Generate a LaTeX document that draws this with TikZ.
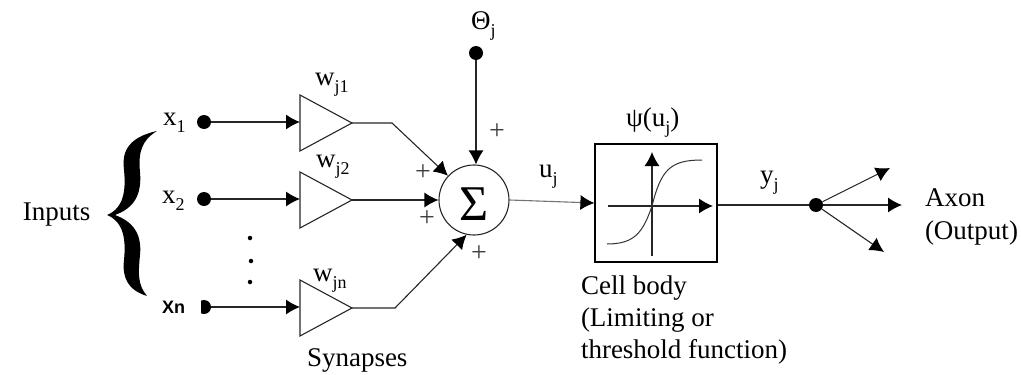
\documentclass[tikz,border=0pt]{standalone}
\usepackage{fontspec}
\setmainfont{Liberation Serif}
\newfontfamily\arialfont{Liberation Sans}
\usetikzlibrary{arrows.meta,shapes.geometric}
\newcommand{\sbx}[1]{\raisebox{-7pt}{\fontsize{18}{18}\selectfont #1}}
\tikzset{
  x=1pt,y=-1pt,
  lbl/.style={inner sep=0pt,outer sep=0pt,anchor=base west,font=\fontsize{27}{32}\selectfont},
  para/.style={inner sep=0pt,outer sep=0pt,anchor=north west,align=left,font=\fontsize{27}{32.3}\selectfont},
  plus/.style={inner sep=0pt,outer sep=0pt,font=\fontsize{28}{28}\selectfont,text=black!75},
  wire/.style={line width=1.1pt,draw=black!85},
  arr/.style={wire,-{Latex[length=14pt,width=15pt,color=black]}},
  dotn/.style={circle,fill=black,inner sep=0pt,minimum size=14pt},
  tinydot/.style={circle,fill=black,inner sep=0pt,minimum size=4.5pt},
  amp/.style={isosceles triangle,isosceles triangle stretches,shape border rotate=0,draw=black!85,line width=1.1pt,inner sep=0pt,outer sep=0pt,minimum width=56pt,minimum height=52pt,anchor=west}
}
\begin{document}
\begin{tikzpicture}
\useasboundingbox (0,0) rectangle (1021,375);
% Brace
\fill (157,131) .. controls (125,138) and (122,155) .. (124,170)
  .. controls (126,190) and (124,208) .. (107,215)
  .. controls (124,222) and (126,240) .. (124,260)
  .. controls (122,278) and (128,290) .. (147,296)
  .. controls (138,285) and (138,275) .. (140,255)
  .. controls (142,235) and (134,222) .. (115,215)
  .. controls (134,208) and (142,195) .. (140,172)
  .. controls (138,152) and (142,140) .. (157,131) -- cycle;
\node[lbl] (inputs) at (23,220) {Inputs};
% Inputs
\node[lbl] (lx1) at (163,125) {x\sbx{1}};
\node[lbl] (lx2) at (162,203) {x\sbx{2}};
\node[lbl,font=\arialfont\bfseries\fontsize{18}{20}\selectfont] (lxn) at (162,313) {Xn};
\node[dotn] (x1) at (204,122) {};
\node[dotn] (x2) at (204,199) {};
\node[dotn] (xn) at (204,307) {};
\fill[white] (197,298) rectangle (201,316);
\node[tinydot] (d1) at (250,238) {};
\node[tinydot] (d2) at (251,261) {};
\node[tinydot] (d3) at (250,282) {};
% Synapses
\node[amp] (s1) at (300,123) {};
\node[amp] (s2) at (300,200) {};
\node[amp] (s3) at (300,308) {};
\node[lbl] (w1) at (315,85) {w\sbx{j1}};
\node[lbl] (w2) at (316,167) {w\sbx{j2}};
\node[lbl] (wn) at (313,281) {w\sbx{jn}};
\node[lbl] (syn) at (307,366) {Synapses};
% Summation
\node[circle,draw=black!85,line width=1.1pt,inner sep=0pt,minimum size=70pt] (sum) at (474,200) {};
\node[inner sep=0pt,font=\fontsize{50}{50}\selectfont] (sigma) at (474,204) {Σ};
\node[dotn] (theta) at (476,53) {};
\node[lbl] (ltheta) at (471,29) {Θ\sbx{j}};
\node[plus] (p1) at (497,132) {+};
\node[plus] (p2) at (423,173) {+};
\node[plus] (p3) at (427,219) {+};
\node[plus] (p4) at (479,254) {+};
\coordinate (b1) at (392,123);
\coordinate (b3) at (395,308);
\draw[arr] (x1) -- (s1.west |- x1);
\draw[arr] (x2) -- (s2.west |- x2);
\draw[arr] (xn) -- (s3.west |- xn);
\draw[arr] (s1.apex) -- (b1) -- (sum.137);
\draw[arr] (s2.apex) -- (sum.west |- s2.apex);
\draw[arr] (s3.apex) -- (b3) -- (sum.-102);
\draw[arr] (theta) -- (theta |- sum.north);
% Cell body
\node[draw=black,line width=1.2pt,inner sep=0pt,minimum width=122pt,minimum height=118pt] (cell) at (656,203) {};
\node[lbl] (lu) at (539,177) {u\sbx{j}};
\node[lbl] (lpsi) at (626,126) {ψ(u\sbx{j})};
\node[para] (lcell) at (581,275.5) {Cell body\\(Limiting or\\threshold function)};
\draw[arr,draw=black!55] (sum.east) -- (cell.west |- 510,203);
\coordinate (ax0) at (652,256);
\coordinate (ax1) at (652,152);
\coordinate (ay0) at (608,206);
\coordinate (ay1) at (713,206);
\draw[arr] (ax0) -- (ax1);
\draw[arr] (ay0) -- (ay1);
\draw[line width=1pt,draw=black!80] (607,244) .. controls (635,244) and (643,232) .. (652,206)
  .. controls (661,170) and (670,160) .. (702,160);
% Output
\node[dotn] (out) at (816,205) {};
\node[lbl] (ly) at (760,183) {y\sbx{j}};
\coordinate (o1) at (890,168);
\coordinate (o2) at (902,205);
\coordinate (o3) at (884,252);
\draw[wire] (cell.east |- out) -- (out);
\draw[arr] (out) -- (o1);
\draw[arr] (out) -- (o2);
\draw[arr] (out) -- (o3);
\node[para] (laxon) at (925,189) {Axon\\(Output)};
\end{tikzpicture}
\end{document}
